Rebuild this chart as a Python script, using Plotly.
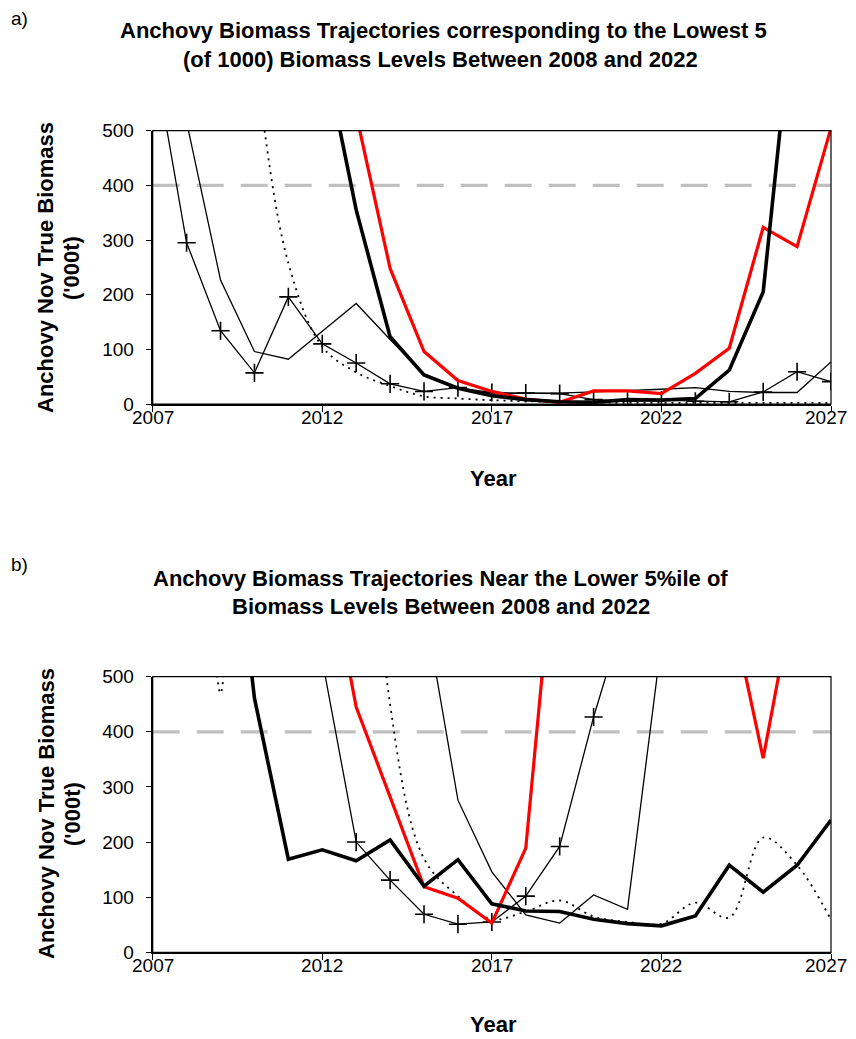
import plotly.graph_objects as go

# ---------------- data ----------------
years = list(range(2007, 2028))
x_ticks = [2007, 2012, 2017, 2022, 2027]
y_ticks = [0, 100, 200, 300, 400, 500]
ref_years = [2007, 2027]
ref_level = [400, 400]

# Panel a) lowest 5 trajectories
a_plus = [650, 295, 134, 57, 196, 110, 75, 37, 23, 30, 21, 20, 19, 8, 5, 7, 5, 4, 22, 59, 41]
a_thin = [None, 516, 227, 96, 82, 133, 184, 118, 55, 30, 18, 20, 20, 22, 24, 27, 30, 23, 21, 21, 77]
a_dot = [None, None, 1200, 640, 258, 105, 58, 33, 14, 10, 7, 5, 4, 3, 2, 2, 2, 2, 2, 2, 2]
a_black = [None, None, None, None, None, 660, 355, 123, 53, 29, 15, 8, 4, 3, 8, 7, 10, 62, 205, 800, None]
a_red = [None, None, None, None, None, None, 530, 248, 96, 43, 23, 9, 3, 24, 24, 19, 56, 102, 323, 288, 505]

# Panel b) trajectories near lower 5%ile
b_black = [None, None, 1000, 461, 169, 186, 166, 204, 120, 168, 88, 75, 74, 60, 52, 48, 66, 158, 109, 158, 240]
b_plus = [None, None, None, None, 800, 530, 200, 131, 69, 51, 55, 102, 192, 427, 630, None, None, None, None, None, None]
b_thin = [None, None, None, None, None, None, None, None, 632, 276, 146, 68, 53, 104, 78, 563, None, None, None, None, None]
b_dot = [None, 2000, 470, 2500, 3000, 2500, 1300, 450, 170, 102, 60, 74, 94, 65, 55, 52, 90, 63, 208, 158, 59]
b_red = [None, None, None, None, None, 770, 445, 282, 119, 98, 53, 189, 840, None, None, None, None, 640, 352, 680, None]

# page has an 8px body margin: figure is drawn at (8, 8)
OFF = 8
W, H = 848, 1031
FONT = "Liberation Sans, Arial, sans-serif"

def px(x):
    return (x - OFF) / W

def py(y):
    return 1 - (y - OFF) / H

fig = go.Figure()

def add_panel(xa, ya, plus, thin, dot, black, red):
    xref, yref = xa, ya
    fig.add_trace(go.Scatter(x=ref_years, y=ref_level, mode="lines", xaxis=xref, yaxis=yref,
                             line=dict(color="#C0C0C0", width=3.2, dash="27px,17px"), showlegend=False))
    fig.add_trace(go.Scatter(x=years, y=dot, mode="lines", xaxis=xref, yaxis=yref,
                             line=dict(color="black", width=1.8, dash="2px,5px", shape="spline", smoothing=1.0),
                             showlegend=False))
    fig.add_trace(go.Scatter(x=years, y=thin, mode="lines", xaxis=xref, yaxis=yref,
                             line=dict(color="black", width=1.3), showlegend=False))
    fig.add_trace(go.Scatter(x=years, y=plus, mode="lines+markers", xaxis=xref, yaxis=yref,
                             line=dict(color="black", width=1.3),
                             marker=dict(symbol="cross-thin", size=13, line=dict(color="black", width=1.6)),
                             showlegend=False))
    fig.add_trace(go.Scatter(x=years, y=red, mode="lines", xaxis=xref, yaxis=yref,
                             line=dict(color="#FF0000", width=3.2), showlegend=False))
    fig.add_trace(go.Scatter(x=years, y=black, mode="lines", xaxis=xref, yaxis=yref,
                             line=dict(color="black", width=3.6), showlegend=False))

add_panel("x", "y", a_plus, a_thin, a_dot, a_black, a_red)
add_panel("x2", "y2", b_plus, b_thin, b_dot, b_black, b_red)

xdom = [px(152.7), px(831)]
axis_common_x = dict(range=[2007, 2027], tickvals=x_ticks, showticklabels=False,
                     showgrid=False, zeroline=False, showline=True, linecolor="black", linewidth=2,
                     ticks="outside", ticklen=6, tickwidth=1.3, tickcolor="black", automargin=False)
axis_common_y = dict(range=[0, 500], tickvals=y_ticks,
                     showgrid=False, zeroline=False, showline=True, linecolor="black", linewidth=2,
                     ticks="outside", ticklen=5, tickwidth=1.3, tickcolor="black", automargin=False,
                     ticklabelstandoff=8,
                     tickfont=dict(family=FONT, size=19, color="black"))

fig.update_layout(
    width=W, height=H, margin=dict(l=0, r=0, t=0, b=0, pad=0), autosize=False,
    paper_bgcolor="white", plot_bgcolor="white",
    xaxis=dict(domain=xdom, anchor="y", **axis_common_x),
    yaxis=dict(domain=[py(404), py(130.7)], anchor="x", **axis_common_y),
    xaxis2=dict(domain=xdom, anchor="y2", **axis_common_x),
    yaxis2=dict(domain=[py(952.3), py(676.7)], anchor="x2", **axis_common_y),
)

# plot-area box (thin top/right border)
for xr, yr in [("x domain", "y domain"), ("x2 domain", "y2 domain")]:
    fig.add_shape(type="rect", xref=xr, yref=yr, x0=0, x1=1, y0=0, y1=1,
                  line=dict(color="black", width=1.2), layer="above")

# x tick labels (placed on the axes' own data coordinates)
for xr, ylab in [("x", 417), ("x2", 965)]:
    for t in x_ticks:
        fig.add_annotation(text=str(t), x=t, xref=xr, y=py(ylab), yref="paper",
                           showarrow=False, xanchor="center", yanchor="middle",
                           xshift=-5 if t == x_ticks[-1] else 0,
                           font=dict(family=FONT, size=19, color="black"))

def ann(text, x, y, size, bold=True, xanchor="center", angle=0):
    fig.add_annotation(text=f"<b>{text}</b>" if bold else text, x=px(x), y=py(y),
                       xref="paper", yref="paper", showarrow=False, xanchor=xanchor,
                       yanchor="middle", textangle=angle,
                       font=dict(family=FONT, size=size, color="black"))

# Panel labels and titles
ann("a)", 9, 18, 19, bold=False, xanchor="left")
ann("Anchovy Biomass Trajectories corresponding to the Lowest 5", 443, 31, 22)
ann("(of 1000) Biomass Levels Between 2008 and 2022", 441, 60, 22)
ann("b)", 9, 564, 19, bold=False, xanchor="left")
ann("Anchovy Biomass Trajectories Near the Lower 5%ile of", 441, 578, 22)
ann("Biomass Levels Between 2008 and 2022", 441, 607, 22)

# Axis titles
ann("Year", 493, 478, 22)
ann("Year", 493, 1024, 22)
ann("Anchovy Nov True Biomass", 46, 268, 22, angle=-90)
ann("('000t)", 72, 268, 22, angle=-90)
ann("Anchovy Nov True Biomass", 46, 814, 22, angle=-90)
ann("('000t)", 72, 814, 22, angle=-90)

fig.write_html("out.html")
